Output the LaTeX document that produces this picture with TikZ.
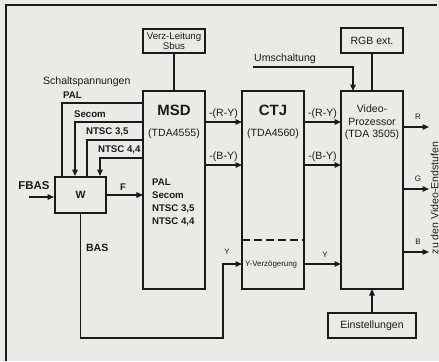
\documentclass[tikz,border=0pt]{standalone}
\usepackage{fontspec}
\setmainfont{Liberation Sans}
\usetikzlibrary{arrows.meta,calc,positioning}
\definecolor{paper}{HTML}{E9ECE6}
\definecolor{ink}{HTML}{1A1A1A}
\tikzset{
  block/.style={
    draw=ink,
    line width=1.1pt,
    minimum width=1.24cm,
    minimum height=3.96cm,
    inner sep=0pt,
    outer sep=0pt
  },
  smallbox/.style={
    draw=ink,
    line width=0.8pt,
    minimum height=0.48cm,
    inner sep=1pt,
    align=center,
    text=ink,
    font=\fontsize{5.5}{6.2}\selectfont
  },
  sig/.style={
    draw=ink,
    line width=0.8pt
  },
  feed/.style={
    sig,
    -{Triangle[length=1.3mm,width=1.1mm]}
  },
  lbl/.style={
    text=ink,
    inner sep=1pt,
    font=\fontsize{6}{7}\selectfont
  },
  tinylbl/.style={
    lbl,
    font=\fontsize{4.5}{5}\selectfont
  },
  mode/.style={
    lbl,
    font=\bfseries\fontsize{5.5}{7.4}\selectfont
  },
  chip/.style={
    lbl,
    font=\bfseries\fontsize{8.5}{10}\selectfont
  }
}

\begin{document}
\begin{tikzpicture}[x=0.2mm,y=-0.2mm]
  \fill[paper] (0,0) rectangle (439,361);
  \useasboundingbox (0,0) rectangle (439,361);
  \draw[sig, line width=1pt] (6,361) -- (6,5) -- (437,5);

  \node[block] (msd) at (174,190) {};
  \node[block, right=0.74cm of msd] (ctj) {};
  \node[block, right=0.74cm of ctj] (vp) {};

  \node[chip] (msdname) at ($(msd.north)+(0,19)$) {MSD};
  \node[lbl] (msdtype) at ($(msd.north)+(0,43)$) {(TDA4555)};
  \node[mode, anchor=west, align=left] (msdmodes) at ($(msd.west)+(7,12)$)
    {PAL\\Secom\\NTSC 3,5\\NTSC 4,4};
  \node[chip] (ctjname) at ($(ctj.north)+(0,19)$) {CTJ};
  \node[lbl] (ctjtype) at ($(ctj.north)+(0,43)$) {(TDA4560)};
  \node[lbl, align=center, font=\fontsize{6}{7.1}\selectfont] (vpname)
    at ($(vp.north)+(0,31.5)$) {Video-\\Prozessor\\(TDA 3505)};

  \node[smallbox, minimum width=1.24cm] (verz) at (174,41) {Verz-Leitung\\Sbus};
  \node[smallbox, minimum width=1.24cm, minimum height=0.5cm,
    font=\fontsize{6}{7}\selectfont] (rgb) at (372,40.5) {RGB ext.};
  \node[smallbox, minimum width=1.76cm, minimum height=0.5cm,
    font=\fontsize{6}{7}\selectfont] (einst) at (372,325.5) {Einstellungen};
  \node[draw=ink, line width=1.1pt, minimum width=1.02cm, minimum height=0.72cm,
    inner sep=0pt, text=ink, font=\bfseries\fontsize{6}{7}\selectfont] (w) at (80.5,195) {W};

  \draw[sig] (verz.south) -- (verz.south |- msd.north);
  \draw[sig] (rgb.south) -- (rgb.south |- vp.north);
  \draw[feed] (einst.north) -- (einst.north |- vp.south);

  \coordinate (umsch) at (253,67);
  \coordinate (umin) at ($(vp.north west)+(12,0)$);
  \draw[feed] (umsch) -| (umin);
  \node[lbl, anchor=south west, inner sep=0.5pt] (umschlbl) at ($(umsch)+(0,-2)$) {Umschaltung};

  \coordinate (ry) at (0,122);
  \coordinate (by) at (0,165);
  \coordinate (yrow) at (0,264);
  \draw[feed] (msd.east |- ry) -- (ctj.west |- ry)
    node[lbl, midway, above=0.5pt] (ry1) {-(R-Y)};
  \draw[feed] (msd.east |- by) -- (ctj.west |- by)
    node[lbl, midway, above=0.5pt] (by1) {-(B-Y)};
  \draw[feed] (ctj.east |- ry) -- (vp.west |- ry)
    node[lbl, midway, above=0.5pt] (ry2) {-(R-Y)};
  \draw[feed] (ctj.east |- by) -- (vp.west |- by)
    node[lbl, midway, above=0.5pt] (by2) {-(B-Y)};
  \draw[sig, dash pattern=on 1.6mm off 0.8mm] (ctj.west |- 0,240) -- (ctj.east |- 0,240);
  \node[tinylbl, anchor=west] (yverz) at ($(ctj.west |- yrow)+(1,1)$) {Y-Verzögerung};
  \draw[feed] (ctj.east |- yrow) -- (vp.west |- yrow);
  \node[tinylbl] (y2) at (325,255) {Y};

  \coordinate (pal) at (62,103);
  \coordinate (sec) at (75,122);
  \coordinate (n35) at (87,140);
  \coordinate (n44) at (100,158);
  \draw[sig] (msd.west |- pal) -| (w.north -| pal);
  \draw[feed] (msd.west |- sec) -| (w.north -| sec);
  \draw[sig] (msd.west |- n35) -| (w.north -| n35);
  \draw[feed] (msd.west |- n44) -| (w.north -| n44);
  \node[mode, anchor=south west] (pallbl) at ($(pal)+(-1,-2)$) {PAL};
  \node[mode, anchor=south west] (seclbl) at ($(sec)+(-3,-2)$) {Secom};
  \node[mode, anchor=south west] (n35lbl) at ($(n35)+(-3,-2)$) {NTSC 3,5};
  \node[mode, anchor=south west] (n44lbl) at ($(n44)+(-4,-2)$) {NTSC 4,4};
  \node[lbl, anchor=west] (schalt) at (41,82) {Schaltspannungen};

  \coordinate (fbasin) at (29,197);
  \draw[feed] (fbasin) -- (w.west |- fbasin);
  \node[mode, font=\bfseries\fontsize{6.5}{7}\selectfont] (fbaslbl) at (34,186) {FBAS};
  \draw[feed] (w.east) -- (msd.west |- w.east);
  \node[mode] (flbl) at (123,187) {F};

  \coordinate (basturn) at (223,338);
  \draw[feed] (w.south) |- (basturn) |- (ctj.west |- yrow);
  \node[mode, font=\bfseries\fontsize{6}{7}\selectfont, anchor=west] (baslbl) at (84,248) {BAS};
  \node[tinylbl] (y1) at (227,252) {Y};

  \coordinate (rout) at (429,127);
  \coordinate (gout) at (429,189);
  \coordinate (bout) at (429,252);
  \draw[feed] (vp.east |- rout) -- (rout);
  \draw[feed] (vp.east |- gout) -- (gout);
  \draw[feed] (vp.east |- bout) -- (bout);
  \node[tinylbl] (rlbl) at (418,117) {R};
  \node[tinylbl] (glbl) at (418,179) {G};
  \node[tinylbl] (blbl) at (418,242) {B};
  \node[lbl, rotate=90, inner sep=0pt] (endst) at (434.5,198) {zu den Video-Endstufen};
\end{tikzpicture}
\end{document}
